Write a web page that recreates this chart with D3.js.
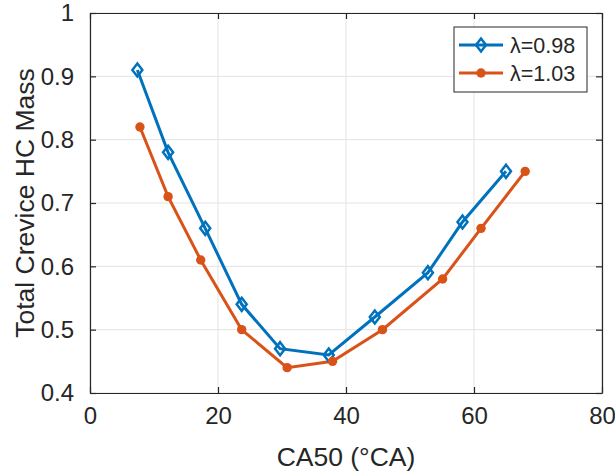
<!DOCTYPE html>
<html>
<head>
<meta charset="utf-8">
<script src="https://cdn.jsdelivr.net/npm/d3@7"></script>
<style>
  body { margin: 0; background: #fff; }
  svg text { font-family: "Liberation Sans", Arial, sans-serif; fill: #262626; }
</style>
</head>
<body>
<div class="chart"></div>
<script>
// values
const ca50Lean = [7.4, 12.2, 18.0, 23.7, 29.7, 37.3, 44.5, 52.8, 58.2, 65.0];
const massLean = [0.91, 0.78, 0.66, 0.54, 0.47, 0.46, 0.52, 0.59, 0.67, 0.75];
const ca50Rich = [7.8, 12.2, 17.3, 23.7, 30.8, 37.9, 45.7, 55.1, 61.1, 68.0];
const massRich = [0.82, 0.71, 0.61, 0.50, 0.44, 0.45, 0.50, 0.58, 0.66, 0.75];
const seriesNames = ["\u03bb=0.98", "\u03bb=1.03"];
const xTicks = [0, 20, 40, 60, 80];
const yTicks = [0.4, 0.5, 0.6, 0.7, 0.8, 0.9, 1];

var margin = {top: 13, right: 13, bottom: 78, left: 90},
    width = 615 - margin.left - margin.right,
    height = 471 - margin.top - margin.bottom;

var x = d3.scaleLinear().domain([0, 80]).range([0, width]);
var y = d3.scaleLinear().domain([0.4, 1]).range([height, 0]);

const svg = d3.select('.chart').append('svg')
    .attr('width', 615).attr('height', 471);
const chart = svg.append('g')
    .attr('transform', 'translate(' + margin.left + ',' + margin.top + ')');

// grid
chart.append('g').selectAll('line').data(xTicks).enter().append('line')
    .attr('x1', d => x(d)).attr('x2', d => x(d)).attr('y1', 0).attr('y2', height)
    .attr('stroke', '#e3e3e3').attr('stroke-width', 1);
chart.append('g').selectAll('line').data(yTicks).enter().append('line')
    .attr('y1', d => y(d)).attr('y2', d => y(d)).attr('x1', 0).attr('x2', width)
    .attr('stroke', '#e3e3e3').attr('stroke-width', 1);

// axes (ticks inward, box all round)
const fmtY = d => d === 1 ? '1' : d3.format('.1f')(d);
const xAxis = d3.axisBottom(x).tickValues(xTicks).tickSizeInner(-6).tickSizeOuter(0).tickPadding(14);
const yAxis = d3.axisLeft(y).tickValues(yTicks).tickFormat(fmtY).tickSizeInner(-6).tickSizeOuter(0).tickPadding(16);
const xTop = d3.axisTop(x).tickValues(xTicks).tickSizeInner(-6).tickSizeOuter(0).tickFormat('');
const yRight = d3.axisRight(y).tickValues(yTicks).tickSizeInner(-6).tickSizeOuter(0).tickFormat('');

const gx = chart.append('g').attr('transform', 'translate(0,' + height + ')').call(xAxis);
const gy = chart.append('g').call(yAxis);
chart.append('g').call(xTop);
chart.append('g').attr('transform', 'translate(' + width + ',0)').call(yRight);
chart.selectAll('.domain, .tick line').attr('stroke', '#262626').attr('stroke-width', 1.2);
gx.selectAll('text').style('font-size', '24px').attr('fill', '#262626');
gy.selectAll('text').style('font-size', '24px').attr('fill', '#262626');

// labels
svg.append('text').attr('x', margin.left + width / 2).attr('y', 466)
    .attr('text-anchor', 'middle').style('font-size', '26.5px').text('CA50 (\u00b0CA)');
svg.append('text')
    .attr('transform', 'translate(34,' + (margin.top + height / 2) + ') rotate(-90)')
    .attr('text-anchor', 'middle').style('font-size', '26.5px').text('Total Crevice HC Mass');

// series
const lean = ca50Lean.map((d, i) => ({x: d, y: massLean[i]}));
const rich = ca50Rich.map((d, i) => ({x: d, y: massRich[i]}));
const line = d3.line().x(d => x(d.x)).y(d => y(d.y));
const blue = '#0072BD', orange = '#D95319';

chart.append('path').datum(lean).attr('d', line)
    .attr('fill', 'none').attr('stroke', blue).attr('stroke-width', 3);
chart.append('path').datum(rich).attr('d', line)
    .attr('fill', 'none').attr('stroke', orange).attr('stroke-width', 3);

// MATLAB-style diamond, a little taller than wide
const diamondPath = 'M0,-6.5L5,0L0,6.5L-5,0Z';
chart.selectAll('.dm').data(lean).enter().append('path')
    .attr('transform', d => 'translate(' + x(d.x) + ',' + y(d.y) + ')')
    .attr('d', diamondPath).attr('fill', 'none').attr('stroke', blue).attr('stroke-width', 2.5);
chart.selectAll('.dot').data(rich).enter().append('circle')
    .attr('cx', d => x(d.x)).attr('cy', d => y(d.y)).attr('r', 4.7)
    .attr('fill', orange);

// legend
const lg = svg.append('g').attr('transform', 'translate(454,27)');
lg.append('rect').attr('width', 133).attr('height', 65)
    .attr('fill', '#fff').attr('stroke', '#262626').attr('stroke-width', 1);
[blue, orange].forEach((c, i) => {
  const yy = 18 + i * 28;
  lg.append('line').attr('x1', 5).attr('x2', 49).attr('y1', yy).attr('y2', yy)
      .attr('stroke', c).attr('stroke-width', 3);
  if (i === 0) {
    lg.append('path').attr('transform', 'translate(27,' + yy + ')').attr('d', diamondPath)
        .attr('fill', 'none').attr('stroke', c).attr('stroke-width', 2.5);
  } else {
    lg.append('circle').attr('cx', 27).attr('cy', yy).attr('r', 4.7).attr('fill', c);
  }
  lg.append('text').attr('x', 56).attr('y', yy).attr('dy', '0.35em')
      .style('font-size', '21.5px').text(seriesNames[i]);
});
</script>
</body>
</html>
